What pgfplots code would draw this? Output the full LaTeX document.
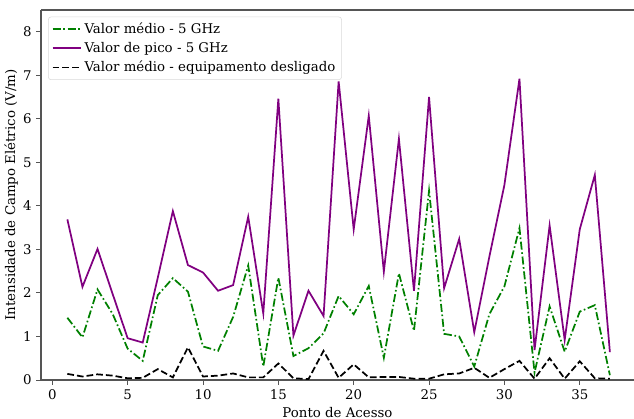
\documentclass[border=0pt]{standalone}
\usepackage{fontspec}
\setmainfont{DejaVu Serif}
\usepackage{pgfplots}
\pgfplotsset{compat=1.18}
\usetikzlibrary{calc}

\definecolor{mgreen}{HTML}{008000}
\definecolor{mpurple}{HTML}{800080}
\definecolor{spine}{HTML}{555555}

\begin{document}
\begin{tikzpicture}
\begin{axis}[
    name=ax,
    scale only axis,
    width=444.75pt, height=277.5pt,
    xmin=-0.75, xmax=38.6,
    ymin=0, ymax=8.5,
    xtick={0,5,...,35},
    ytick={0,1,...,8},
    axis x line*=bottom,
    axis y line*=left,
    axis line style={-, spine, line width=0.8pt},
    tick align=outside,
    major tick length=3.5pt,
    tick style={spine, line width=0.7pt},
    font=\fontsize{10}{12}\selectfont,
    tick label style={font=\fontsize{10}{12}\selectfont},
    /pgf/number format/assume math mode=true,
    xlabel={Ponto de Acesso},
    ylabel={Intensidade de Campo Elétrico (V/m)},
    xlabel style={yshift=1pt},
    ylabel style={yshift=-3pt},
    legend cell align=left,
    legend style={at={(rel axis cs:0.012,0.982)}, anchor=north west,
        draw=black!15, rounded corners=2pt, fill=white, fill opacity=0.8,
        text opacity=1, font=\fontsize{10}{12}\selectfont,
        row sep=1pt, inner sep=2.5pt},
    legend image code/.code={\draw[#1] (0cm,0cm) -- (0.75cm,0cm);},
]
\draw[spine, line width=0.8pt] (rel axis cs:0,1) -- (rel axis cs:1,1);

\addplot[mgreen, line width=1.3pt, dash pattern=on 6pt off 2pt on 1.2pt off 2pt] coordinates {
(1,1.43) (2,0.98) (3,2.08) (4,1.52) (5,0.72) (6,0.44) (7,1.95) (8,2.34) (9,2.03) (10,0.77)
(11,0.67) (12,1.45) (13,2.63) (14,0.31) (15,2.35) (16,0.55) (17,0.73) (18,1.07) (19,1.93) (20,1.51)
(21,2.16) (22,0.51) (23,2.45) (24,1.13) (25,4.35) (26,1.06) (27,1.00) (28,0.31) (29,1.51) (30,2.15)
(31,3.49) (32,0.17) (33,1.69) (34,0.65) (35,1.57) (36,1.72) (37,0.11)
};
\addlegendentry{Valor médio - 5 GHz}

\addplot[mpurple, line width=1.3pt] coordinates {
(1,3.69) (2,2.14) (3,3.01) (4,1.98) (5,0.96) (6,0.86) (7,2.35) (8,3.88) (9,2.64) (10,2.47)
(11,2.05) (12,2.18) (13,3.75) (14,1.53) (15,6.46) (16,1.02) (17,2.05) (18,1.47) (19,6.86) (20,3.46)
(21,6.07) (22,2.49) (23,5.54) (24,2.05) (25,6.50) (26,2.11) (27,3.24) (28,1.10) (29,2.83) (30,4.48)
(31,6.92) (32,0.69) (33,3.55) (34,0.92) (35,3.46) (36,4.71) (37,0.64)
};
\addlegendentry{Valor de pico - 5 GHz}

\addplot[black, line width=1.3pt, dash pattern=on 5pt off 2.3pt] coordinates {
(1,0.14) (2,0.08) (3,0.13) (4,0.10) (5,0.04) (6,0.05) (7,0.25) (8,0.06) (9,0.75) (10,0.08)
(11,0.10) (12,0.15) (13,0.06) (14,0.06) (15,0.38) (16,0.04) (17,0.02) (18,0.67) (19,0.05) (20,0.36)
(21,0.06) (22,0.07) (23,0.07) (24,0.03) (25,0.03) (26,0.13) (27,0.15) (28,0.28) (29,0.05) (30,0.25)
(31,0.44) (32,0.03) (33,0.50) (34,0.03) (35,0.43) (36,0.04) (37,0.03)
};
\addlegendentry{Valor médio - equipamento desligado}
\end{axis}
\pgfresetboundingbox
\path[use as bounding box] ($(ax.south west)+(-30.75pt,-29.25pt)$) rectangle ($(ax.north east)+(0pt,7.5pt)$);
\end{tikzpicture}
\end{document}
